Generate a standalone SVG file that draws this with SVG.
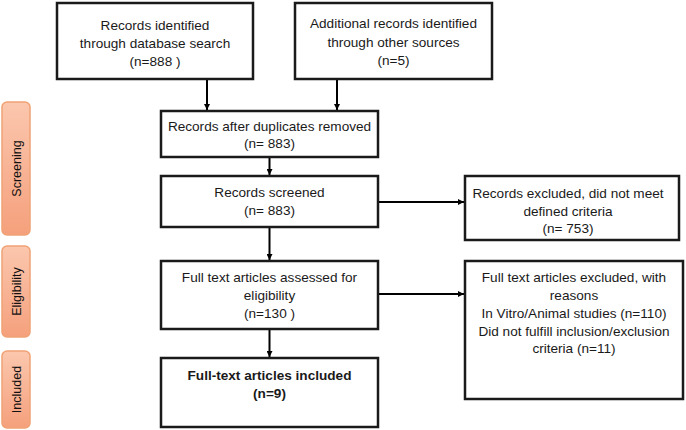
<svg xmlns="http://www.w3.org/2000/svg" width="686" height="430" viewBox="0 0 686 430">
<defs>
<linearGradient id="sal" x1="0" y1="0" x2="0" y2="1">
<stop offset="0" stop-color="#fbc7ae"/>
<stop offset="1" stop-color="#f5a07c"/>
</linearGradient>
<marker id="ah" viewBox="0 0 8 8" refX="8" refY="4" markerWidth="6" markerHeight="6" markerUnits="userSpaceOnUse" orient="auto">
<path d="M0,0 L8,4 L0,8 z" fill="#000"/>
</marker>
<style>
.box{fill:#fff;stroke:#1a1a1a;stroke-width:2.5}
.t{font-family:"Liberation Sans",Arial,sans-serif;font-size:13.6px;fill:#1a1a1a;text-anchor:middle}
.b{font-weight:bold}
.side{fill:url(#sal);stroke:#f0a274;stroke-width:1.5}
.st{font-family:"Liberation Sans",Arial,sans-serif;font-size:12.5px;fill:#111;text-anchor:middle}
.c{stroke:#000;stroke-width:2;fill:none;marker-end:url(#ah)}
</style>
</defs>
<rect width="686" height="430" fill="#fff"/>
<g id="phase-screening">
<rect class="side" x="2" y="102" width="28" height="133" rx="5"/>
<text class="st" transform="translate(20.5,168.5) rotate(-90)">Screening</text>
</g>
<g id="phase-eligibility">
<rect class="side" x="2" y="246" width="28" height="91" rx="5"/>
<text class="st" transform="translate(20.5,291.5) rotate(-90)">Eligibility</text>
</g>
<g id="phase-included">
<rect class="side" x="2" y="351" width="28" height="77" rx="5"/>
<text class="st" transform="translate(20.5,389.5) rotate(-90)">Included</text>
</g>
<g id="connectors">
<path class="c" d="M207,79 V110"/>
<path class="c" d="M337,79 V110"/>
<path class="c" d="M269.5,157 V175"/>
<path class="c" d="M269.5,227 V260"/>
<path class="c" d="M269.5,329 V357"/>
<path class="c" d="M378,202 H464"/>
<path class="c" d="M378,294 H464"/>
</g>
<g id="n1">
<rect class="box" x="57" y="3" width="196" height="76"/>
<text class="t" x="155" y="30">Records identified</text>
<text class="t" x="155" y="48">through database search</text>
<text class="t" x="155" y="66">(n=888 )</text>
</g>
<g id="n2">
<rect class="box" x="295" y="3" width="197" height="76"/>
<text class="t" x="393.5" y="28">Additional records identified</text>
<text class="t" x="393.5" y="47">through other sources</text>
<text class="t" x="393.5" y="65">(n=5)</text>
</g>
<g id="n3">
<rect class="box" x="161" y="111" width="217" height="46"/>
<text class="t" x="269.5" y="131">Records after duplicates removed</text>
<text class="t" x="269.5" y="148">(n= 883)</text>
</g>
<g id="n4">
<rect class="box" x="161" y="176" width="217" height="51"/>
<text class="t" x="269.5" y="197">Records screened</text>
<text class="t" x="269.5" y="215">(n= 883)</text>
</g>
<g id="n5">
<rect class="box" x="161" y="261" width="217" height="68"/>
<text class="t" x="269.5" y="282">Full text articles assessed for</text>
<text class="t" x="269.5" y="300">eligibility</text>
<text class="t" x="269.5" y="318">(n=130 )</text>
</g>
<g id="n6">
<rect class="box" x="161" y="358" width="217" height="69"/>
<text class="t b" x="269.5" y="380">Full-text articles included</text>
<text class="t b" x="269.5" y="398">(n=9)</text>
</g>
<g id="n7">
<rect class="box" x="465" y="176" width="214" height="64"/>
<text class="t" x="568" y="198">Records excluded, did not meet</text>
<text class="t" x="568" y="216">defined criteria</text>
<text class="t" x="568" y="233">(n= 753)</text>
</g>
<g id="n8">
<rect class="box" x="465" y="261" width="218" height="138"/>
<text class="t" x="574" y="282">Full text articles excluded, with</text>
<text class="t" x="574" y="300">reasons</text>
<text class="t" x="574" y="318">In Vitro/Animal studies (n=110)</text>
<text class="t" x="574" y="336">Did not fulfill inclusion/exclusion</text>
<text class="t" x="574" y="353">criteria (n=11)</text>
</g>
</svg>
